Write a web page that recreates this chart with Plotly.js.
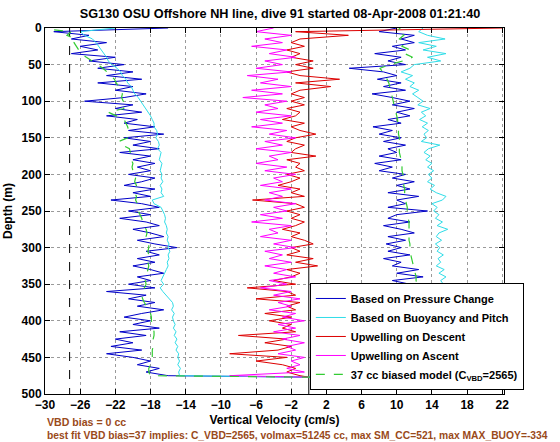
<!DOCTYPE html>
<html><head><meta charset="utf-8">
<script src="https://cdn.plot.ly/plotly-3.0.1.min.js"></script>
<style>html,body{margin:0;padding:0;background:#fff}</style>
</head><body><div id="chart" style="width:560px;height:442px"></div>
<script>
// Depth grid (m), surface to bottom
const depth = [0,5,10,15,20,25,30,35,40,45,
  50,55,60,65,70,75,80,85,90,95,
  100,105,110,115,120,125,130,135,140,145,
  150,155,160,165,170,175,180,185,190,195,
  200,205,210,215,220,225,230,235,240,245,
  250,255,260,265,270,275,280,285,290,295,
  300,305,310,315,320,325,330,335,340,345,
  350,355,360,365,370,375,380,385,390,395,
  400,405,410,415,420,425,430,435,440,445,
  450,455,460,465,470,475];
const bottomDepth = 477;

// Based on Pressure Change (cm/s)
const pressureDown = [-16,-29,-25,-27,-23,-26,-24,-27,-22,-25,
  -21,-24,-20,-23,-19,-24,-20,-22,-18.5,-21,
  -25.5,-20,-22,-19,-23,-19.5,-21,-17.5,-20.5,-16.5,
  -21,-18,-20,-17,-21.5,-18,-20,-17.5,-19.5,-18,
  -20.5,-17.5,-19,-21,-17.5,-20,-18,-22.5,-19,-17,
  -20.5,-18,-21.5,-18.5,-17,-20,-18,-16.5,-19.5,-17.5,
  -15,-18.5,-17,-19.5,-17.5,-20,-18,-16.5,-19.5,-18,
  -20.5,-17.5,-23,-18.5,-20.5,-17.5,-19.5,-16.5,-19,-21,
  -18,-20,-17,-21.5,-18.5,-22,-20,-22.5,-19,-23,
  -20,-18,-19.5,-17,-18.5,-16];
const pressureBottom = 0;
const pressureUp = [10,8,12,10.5,12,9.5,11,7.5,10.5,9,
  11,4.6,8.5,10,7.8,10.5,8.5,11,7.2,9.5,
  11.5,9.5,12,10,11.5,9,10.5,7.3,9.5,8,
  10.5,8.5,11,9,10,8,10.5,7.5,9.5,8,
  11,9.5,12,10,11.5,9,12.5,10,11,9,
  13.5,10,9,11.5,8.5,10.5,12,9,11,8.8,
  10.5,9,11.5,8.5,10.5,9.5,12.5,10,13,9.5,
  11.5,9,13.5,10,8.5,12,10,13,9.5,11,
  12.5,10,11.5,9.5,12,10.5,13,11,9.5,12,
  10.5,11.5,9.5,10.5,8,6];

// Based on Buoyancy and Pitch (cm/s)
const buoyDown = [-22,-26,-25.5,-24.6,-24.2,-23.9,-23.6,-23.2,-23,-22.8,
  -22.4,-21.8,-21.4,-21.2,-20.8,-20.6,-20.2,-20,-19.8,-19.4,
  -19.1,-18.8,-18.6,-18.2,-18,-17.8,-17.6,-17.6,-17.3,-17.2,
  -17.4,-17.1,-17,-17.2,-16.8,-16.9,-17,-16.7,-16.8,-16.9,
  -16.7,-16.8,-16.6,-16.9,-16.7,-16.8,-16.5,-17.8,-17.6,-16.8,
  -16.6,-16.4,-16.3,-16.4,-16.2,-16.1,-16.2,-16,-16.1,-15.9,
  -16,-15.8,-16,-15.9,-16.1,-16,-16.2,-16.4,-16.6,-16.8,
  -16.5,-16.9,-16.6,-16.2,-15.8,-15.5,-15.4,-15.6,-15.3,-15.5,
  -15.4,-15.2,-15.4,-15.1,-15.3,-15,-15.2,-14.9,-15.1,-14.8,
  -14.9,-14.7,-14.9,-14.6,-14.8,-14.7];
const buoyBottom = 0;
const buoyUp = [13,12.5,13.5,15.5,12.5,14.5,13,15.6,13.5,15,
  12,11.5,10.5,11.8,11,12,11.5,12.5,11.8,12.4,
  13,12.4,13.8,12.8,13.3,12.6,13.5,12.9,13.6,13.1,
  13.4,12.8,14.9,13.6,13.1,13.8,13.3,14,13.5,14.2,
  13.6,14,13.5,14.3,13.8,14.5,15.6,15.2,14,14.6,
  14.2,14.8,14.4,15.2,14.6,15.8,14.8,14.5,15.1,14.4,
  14.9,14.6,15.3,14.7,15,14.5,15.4,14.8,15.6,15,
  15.3,14.8,15.6,15.2,15.9,15.4,16,15.5,16.3,15.7,
  16,15.6,16.2,15.8,16.1,15.7,16.3,15.9,16,15.6,
  16.1,15.8,16.2,15.9,15.5,14];

// Upwelling on Descent (cm/s)
const upwellDown = [22,-1.5,4.5,-1,-2,-0.5,-2.5,-1,-2,0.5,
  -1.5,0.5,-2.5,-1,3.5,-1.5,2.5,-1,-2,-0.5,
  -2,-0.5,-2.5,-1,-1.5,-3,-0.5,-2,-1,0.8,
  -1.5,-2.5,-0.5,-1.5,-2,0.8,-2.5,-1,-1.5,-0.5,
  -2.5,-1,-2,-3.5,-1,-2,-0.5,-6.4,-1.5,-0.5,
  -2.5,-1,-2,-0.5,-1.5,-3,-1,-2,-0.5,0.5,
  -2,-1,-2.5,0.5,-1.5,1,-2.5,-1,-2,-4,
  -1.5,-7,-2.5,-1.5,-6,-1,-2.5,-1.5,-5,-2,
  -4.5,-2,-3,-1.5,-8,-2.5,-5,-2,-3.5,-9,
  -2.5,-6,-3,-1.5,-2.5,-1];
const upwellDownBottom = 0;

// Upwelling on Ascent (cm/s), listed surface to bottom
const upwellUp = [-4,-6,-2,-5,-3,-6.5,-2.5,-4.5,-1.5,-5,
  -3,-6,-2,-7,-3.5,-5.5,-2,-6.5,-3,-7.5,
  -2.5,-5,-3.5,-6,-2,-5.5,-3,-6.5,-2.5,-4.5,
  -1.5,-5,-3,-6,-2,-4.5,-3.5,-6,-2.5,-5,
  -1.5,-4,-3,-5.5,-2,-4.5,-3,-5,-1.5,-4,
  -2.5,-5.5,-3,-6.5,-2,-4.5,-3.5,-5.5,-2,-4,
  -1.5,-5,-3,-4.5,-2,-5,-2.5,-4,-1.5,-4.5,
  -2.5,-5.5,-2,-4,-1,-3.5,-2,-4.5,-1.5,-3,
  -0.5,-3.5,-1.5,-4,-1,-3,-0.5,-2.5,-1.5,-3.5,
  -0.5,-2,-1,-2.5,-0.5,-9];
const upwellUpBottom = 0;

// 37 cc biased model (cm/s)
const modelDown = [-31,-27,-27.5,-26.5,-26.7,-26.4,-26.2,-25.9,-25.3,-24.6,
  -24,-23.4,-22.9,-22.5,-22.1,-21.9,-21.6,-21.4,-21.2,-21.3,
  -21.1,-21.5,-21,-22.8,-21.8,-21,-20.8,-20.6,-20.5,-20.6,
  -20.6,-21.6,-21.2,-20.4,-20.3,-20.2,-20.2,-20,-20.1,-20,
  -19.6,-19.7,-19.8,-19.6,-19.7,-19.8,-19.6,-19.7,-19.5,-19.4,
  -19.4,-19.2,-19,-18.9,-18.8,-18.5,-18.4,-18.5,-18.3,-18.2,
  -18.2,-18.3,-18.2,-18.4,-18.3,-18.2,-18.3,-18.4,-18.5,-18.6,
  -18.5,-18.7,-18.9,-19,-18.9,-18.7,-18.4,-18.2,-18,-17.9,
  -17.9,-17.8,-17.7,-17.6,-17.6,-17.7,-17.8,-17.7,-17.8,-17.8,
  -17.8,-17.9,-18,-18.2,-18.2,-18];
const modelBottom = 0;
const modelUp = [10.4,10,10.8,10.3,11,10.6,11.5,10.9,11.8,10.7,
  9.2,8.1,8.4,8.7,8.9,9.1,9.2,9.3,9.4,9.5,
  9.6,9.7,9.8,9.9,10,10.1,10.1,10.2,10.2,10.2,
  10.3,10.3,10.3,10.3,10.3,10.4,10.5,10.5,10.6,10.6,
  10.7,10.7,10.8,10.8,10.9,10.9,11,11,11.1,11.2,
  11.2,11.3,11.3,11.4,11.4,11.4,11.4,11.4,11.4,11.5,
  11.5,11.6,11.6,11.7,11.8,11.9,12,12.1,12.2,12.2,
  12.3,12.3,12.4,12.4,12.5,12.5,12.5,12.6,12.6,12.6,
  12.7,12.7,12.7,12.8,12.8,12.8,12.8,12.9,12.9,12.9,
  12.9,13,13,13,13,13];

// Reference lines
const neutralVelocity = [0, 0];
const vbdLimitVelocity = [-27.2, -27.2];
const refLineDepth = [0, 500];

// Axis ticks
const xTicks = [-30,-26,-22,-18,-14,-10,-6,-2,2,6,10,14,18,22];
const yTicks = [0,50,100,150,200,250,300,350,400,450,500];

const legendNames = ['Based on Pressure Change','Based on Buoyancy and Pitch','Upwelling on Descent','Upwelling on Ascent','37 cc biased model (C<sub>VBD</sub>=2565)'];
const titleText = 'SG130 OSU Offshore NH line, dive 91 started 08-Apr-2008 01:21:40';
const note1 = 'VBD bias = 0 cc';
const note2 = 'best fit VBD bias=37 implies: C_VBD=2565, volmax=51245 cc, max SM_CC=521, max MAX_BUOY=-334';

const revDepth = depth.slice().reverse();
function dive(down, bottom, up) {
  return {
    x: down.concat([bottom], up.slice().reverse()),
    y: depth.concat([bottomDepth], revDepth)
  };
}
const p = dive(pressureDown, pressureBottom, pressureUp);
const b = dive(buoyDown, buoyBottom, buoyUp);
const m = dive(modelDown, modelBottom, modelUp);

const traces = [
  {x: vbdLimitVelocity, y: refLineDepth, mode:'lines', line:{color:'#000', width:1, dash:'dash'}, showlegend:false, hoverinfo:'skip'},
  {x: neutralVelocity, y: refLineDepth, mode:'lines', line:{color:'#000', width:1}, showlegend:false, hoverinfo:'skip'},
  {x: p.x, y: p.y, name: legendNames[0], mode:'lines', line:{color:'#0000c8', width:1}},
  {x: b.x, y: b.y, name: legendNames[1], mode:'lines', line:{color:'#2fdde8', width:1}},
  {x: upwellDown.concat([upwellDownBottom]), y: depth.concat([bottomDepth]), name: legendNames[2], mode:'lines', line:{color:'#dd0000', width:1}},
  {x: [upwellUpBottom].concat(upwellUp.slice().reverse()), y: [bottomDepth].concat(revDepth), name: legendNames[3], mode:'lines', line:{color:'#ff00ff', width:1}},
  {x: m.x, y: m.y, name: legendNames[4], mode:'lines', line:{color:'#33cc33', width:1.2, dash:'dash'}}
];

const axisCommon = {
  ticks:'inside', ticklen:5, tickwidth:1, tickcolor:'#000',
  showline:true, linecolor:'#000', linewidth:1, mirror:'ticks',
  showgrid:true, gridcolor:'#9a9a9a', griddash:'dot', gridwidth:1,
  zeroline:false, tickfont:{size:12, weight:'bold', color:'#000'}
};

const layout = {
  width:560, height:442,
  margin:{l:45, r:56, t:28, b:48},
  paper_bgcolor:'#fff', plot_bgcolor:'#fff',
  font:{family:'Liberation Sans, Arial, Helvetica, sans-serif', size:12, color:'#000', weight:'bold'},
  title:{text:titleText, x:0.5, xref:'container', y:1-14/442, yref:'container', yanchor:'middle', font:{size:12.7, weight:'bold', color:'#000'}},
  showlegend:true,
  legend:{x:0.577, y:0.011, xanchor:'left', yanchor:'bottom', bgcolor:'#fff', bordercolor:'#000', borderwidth:1, font:{size:11, weight:'bold', color:'#000'}, tracegroupgap:0},
  xaxis:Object.assign({}, axisCommon, {range:[-30,22.2], tickmode:'array', tickvals:xTicks, title:{text:'Vertical Velocity (cm/s)', font:{size:12, weight:'bold'}, standoff:4}}),
  yaxis:Object.assign({}, axisCommon, {range:[500,0], tickmode:'array', tickvals:yTicks, title:{text:'Depth (m)', font:{size:12, weight:'bold'}, standoff:6}}),
  annotations:[
    {text:note1, xref:'paper', yref:'paper', x:0, y:-28/366, xanchor:'left', yanchor:'middle', showarrow:false, font:{size:10.6, weight:'bold', color:'#9a4a1a'}},
    {text:note2, xref:'paper', yref:'paper', x:0, y:-41/366, xanchor:'left', yanchor:'middle', showarrow:false, font:{size:10.3, weight:'bold', color:'#9a4a1a'}}
  ]
};

Plotly.newPlot('chart', traces, layout, {displayModeBar:false, staticPlot:true});
</script></body></html>
